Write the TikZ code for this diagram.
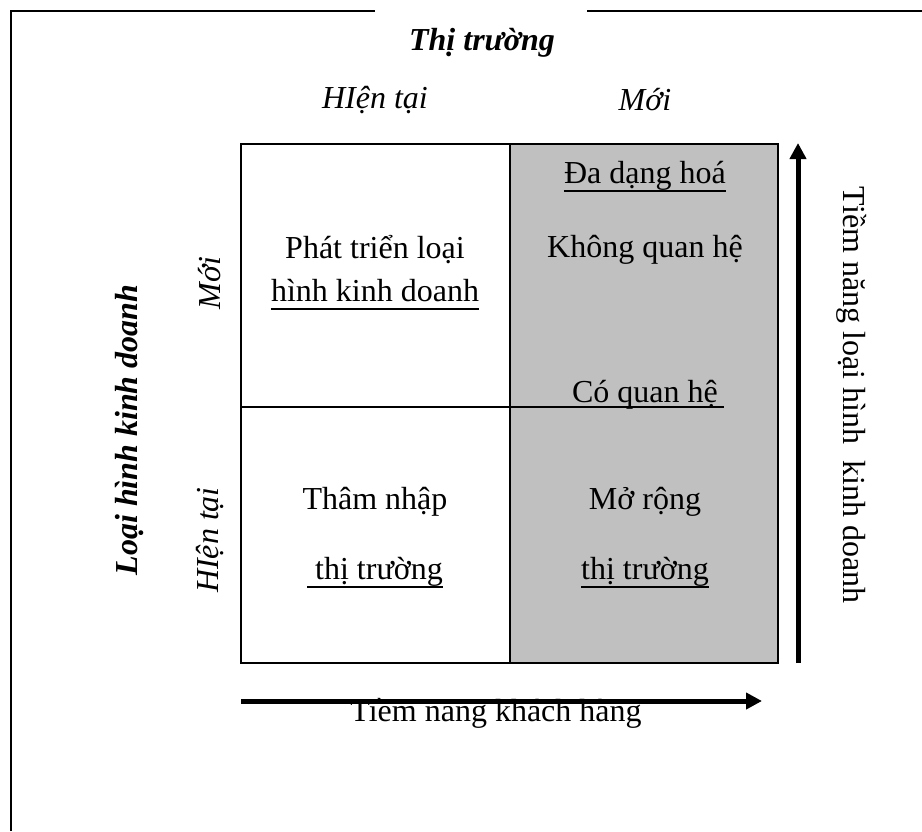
\documentclass[tikz,border=0pt]{standalone}
\usepackage{fontspec}
\setmainfont{Liberation Serif}
\usetikzlibrary{arrows.meta}
\definecolor{cellgray}{HTML}{C0C0C0}
\tikzset{
  txt/.style={inner sep=0pt, font=\fontsize{32}{38}\selectfont, align=center},
  itxt/.style={txt, font=\fontsize{32}{38}\selectfont\itshape},
  btxt/.style={txt, font=\fontsize{32}{38}\selectfont\bfseries\itshape},
  frame/.style={line width=2.2pt},
  grid/.style={line width=2.5pt},
  uline/.style={line width=2pt},
  bigarrow/.style={line width=5pt, -{Triangle[length=16pt,width=16pt]}}
}
\begin{document}
\begin{tikzpicture}[x=1pt,y=-1pt]
\useasboundingbox (0,0) rectangle (922,831);
% outer frame
\coordinate (f1) at (11,831);
\coordinate (f2) at (11,11);
\coordinate (f3) at (375,11);
\coordinate (f4) at (587,11);
\coordinate (f5) at (922,11);
\draw[frame] (f1) -- (f2) -- (f3);
\draw[frame] (f4) -- (f5);
% matrix
\fill[cellgray] (510,144) rectangle (778,663);
\coordinate (tl) at (241,144);
\coordinate (br) at (778,663);
\coordinate (mt) at (510,144);
\coordinate (mb) at (510,663);
\coordinate (ml) at (241,407);
\coordinate (mr) at (724,407);
\draw[grid] (tl) rectangle (br);
\draw[grid] (mt) -- (mb);
\draw[grid] (ml) -- (mr);
% titles
\node[btxt] (title) at (482,43) {Thị trường};
\node[itxt] (c1) at (375,100) {HIện tại};
\node[itxt] (c2) at (645,100) {Mới};
% cells
\node[txt] (a1) at (375,250) {Phát triển loại};
\node[txt] (a2) at (375,291) {hình kinh doanh};
\node[txt] (b1) at (645,176) {Đa dạng hoá};
\node[txt] (b2) at (645,250) {Không quan hệ};
\node[txt, anchor=base] (b3) at (645,402) {Có quan hệ};
\node[txt] (c1a) at (375,502) {Thâm nhập};
\node[txt] (c1b) at (379,572) {thị trường};
\node[txt] (d1) at (645,502) {Mở rộng};
\node[txt] (d2) at (645,572) {thị trường};
% underlines
\draw[uline] ([yshift=-7pt]a2.base west) -- ([yshift=-7pt]a2.base east);
\draw[uline] ([yshift=-7pt]b1.base west) -- ([yshift=-7pt]b1.base east);
\draw[uline] ([xshift=-8pt,yshift=-7pt]c1b.base west) -- ([yshift=-7pt]c1b.base east);
\draw[uline] ([yshift=-7pt]d2.base west) -- ([yshift=-7pt]d2.base east);
% left labels
\node[btxt, rotate=90] (lt) at (130,430) {Loại hình kinh doanh};
\node[itxt, rotate=90] (r1) at (210,283) {Mới};
\node[itxt, rotate=90] (r2) at (210,540) {HIện tại};
% arrows
\coordinate (ha) at (241,701);
\coordinate (hb) at (762,701);
\draw[bigarrow] (ha) -- (hb);
\node[txt] (hl) at (496,713) {Tiềm năng khách hàng};
\coordinate (va) at (798,663);
\coordinate (vb) at (798,143);
\draw[bigarrow] (va) -- (vb);
\node[txt, rotate=-90] (vl) at (852,395) {Tiềm năng loại hình\ \ kinh doanh};
\end{tikzpicture}
\end{document}
